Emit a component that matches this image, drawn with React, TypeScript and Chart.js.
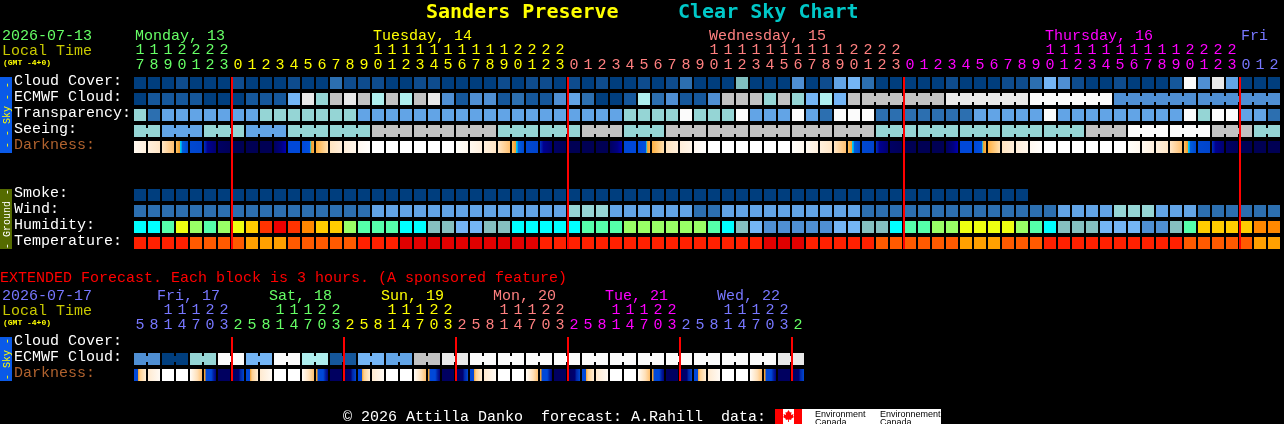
import React, { useEffect, useRef } from "react";
import { Chart, registerables } from "chart.js";

Chart.register(...registerables);

// ---------- data: main forecast (one column per hour) ----------
const hours = [
  17, 18, 19, 20, 21, 22, 23,
  0, 1, 2, 3, 4, 5, 6, 7, 8, 9, 10, 11, 12, 13, 14, 15, 16, 17, 18, 19, 20, 21, 22, 23,
  0, 1, 2, 3, 4, 5, 6, 7, 8, 9, 10, 11, 12, 13, 14, 15, 16, 17, 18, 19, 20, 21, 22, 23,
  0, 1, 2, 3, 4, 5, 6, 7, 8, 9, 10, 11, 12, 13, 14, 15, 16, 17, 18, 19, 20, 21, 22, 23,
  0, 1, 2,
];
const hourDays = [
  0, 0, 0, 0, 0, 0, 0,
  1, 1, 1, 1, 1, 1, 1, 1, 1, 1, 1, 1, 1, 1, 1, 1, 1, 1, 1, 1, 1, 1, 1, 1,
  2, 2, 2, 2, 2, 2, 2, 2, 2, 2, 2, 2, 2, 2, 2, 2, 2, 2, 2, 2, 2, 2, 2, 2,
  3, 3, 3, 3, 3, 3, 3, 3, 3, 3, 3, 3, 3, 3, 3, 3, 3, 3, 3, 3, 3, 3, 3, 3,
  4, 4, 4,
];
const dayColors = ["#66ff66", "#ffff00", "#ff8080", "#ff00ff", "#7777ff"];
const dayLabels = ["Monday, 13", "Tuesday, 14", "Wednesday, 15", "Thursday, 16", "Fri"];
const dayLabelColumns = [0, 17, 41, 65, 79];
const midnightColumns = [7, 31, 55, 79];
const rowLabels = ["Cloud Cover:", "ECMWF Cloud:", "Transparency:", "Seeing:", "Darkness:", "", "", "Smoke:", "Wind:", "Humidity:", "Temperature:"];

const skyPalette: Record<string, string> = {
  a: "#003e7e", b: "#0e4c8e", c: "#15579b", d: "#2c6fb0", e: "#4f8fd3", f: "#62a4e6", g: "#74b5f5",
  h: "#80bfbf", i: "#95d5d5", j: "#aeeeee", k: "#c2c2c2", l: "#e9e9e9", m: "#fbfbfb",
};
const cloudCover = "aaabaaabaaabaadbbbaabb" + "aaaababbababaababdaaahaaaeabfg" + "daaaaabaaabbdgebaabaaacmelfaaa";
const ecmwfCloud = "accccaaaccc" + "glikl" + "kjkjkl" + "eceecdccefdaacjdecce" + "kkkikigjgk" + "kkkkkk" + "llllll" + "mmmmmm" + "eeeeee" + "eeeeee";
const transparency = "idfffffff" + "iiiiiii" + "ffffff" + "fffffffffffff" + "iiii" + "m" + "iii" + "m" + "fff" + "m" + "f" + "d" + "mm" + "m" + "ddddddd" + "fffff" + "m" + "fffffffff" + "m" + "i" + "mm" + "ff" + "d";
const seeingGroups = [2, 3, 3, 3, 3, 3, 3, 3, 3, 3, 3, 3, 3, 3, 3, 3, 3, 3, 3, 3, 3, 3, 3, 3, 3, 3, 3, 2];
const seeingGroupLevels = "ififiikkkiikikkkkkiiiiikmmki";
const ecmwfBridgedStart = 52;
const ecmwfBridgedGroups = [6, 6, 6, 6, 6];
const smokeLevels = "aaaaaaaaaaaaaaaaaaaaaaaaaaaaaaaaaaaaaaaaaaaaaaaaaaaaaaaaaaaaaaaa";
const windLevels = "ddddddddddddddddd" + "ffffffffffffff" + "iii" + "ffffff" + "dd" + "ffffffffff" + "dddddddddddddd" + "ffff" + "iii" + "fff" + "dddddd";

const humidityPalette: Record<string, string> = {
  A: "#00ffff", B: "#55ffaa", C: "#99ff66", D: "#eeff11", E: "#ffcc00", F: "#ff8800", G: "#ff3300", H: "#ee0000",
  h: "#85bfbf", g: "#74b5f5", e: "#4f8fd3",
};
const humidityLevels = "AABDCBCDEGHGFEECBBBAA" + "hhgghhAAAAABBBCCCCCCBAhgeeeeegg" + "hhABBCCDDDDCBAhhhgggeehBEEEEFF";

const temperaturePalette: Record<string, string> = { H: "#e00000", G: "#ff2000", O: "#ff5a00", P: "#ffa000" };
const temperatureLevels = "GGGGOOOOPPPOOOOOGGGHH" + "HHHHHHHH" + "GGGGGGGGGGGGGGGG" + "HHH" + "GGGG" + "G" + "OOOOOO" + "PPP" + "OOO" + "GGGGGGGGGG" + "OOOOO" + "PP";

const darkStops: Record<string, [number, string][]> = {
  a: [[0, "#fff9f0"], [1, "#fff0dd"]],
  b: [[0, "#fff0dd"], [1, "#ffe6c6"]],
  c: [[0, "#ffe6c6"], [1, "#ffc070"]],
  d: [[0, "#ffc060"], [0.3, "#f0a030"], [0.33, "#00d8f0"], [0.45, "#00b0f0"], [0.5, "#0060e0"], [1, "#0048d0"]],
  e: [[0, "#0048d0"], [1, "#0044cc"]],
  f: [[0, "#0030c0"], [0.3, "#000090"], [1, "#000070"]],
  g: [[0, "#000064"], [1, "#000058"]],
  h: [[0, "#000054"], [1, "#000054"]],
  i: [[0, "#000060"], [0.6, "#000080"], [1, "#0000b0"]],
  j: [[0, "#0048d8"], [1, "#0048d8"]],
  k: [[0, "#0048d8"], [0.65, "#0050e0"], [0.68, "#00c0f0"], [0.8, "#f0a030"], [1, "#ffb040"]],
  l: [[0, "#ffb040"], [1, "#ffe0b0"]],
  m: [[0, "#ffe4c0"], [1, "#ffeeda"]],
  n: [[0, "#ffeeda"], [1, "#fff6ea"]],
  o: [[0, "#fff8f0"], [1, "#fffefc"]],
  w: [[0, "#ffffff"], [1, "#ffffff"]],
  p: [[0, "#fffefa"], [1, "#fff8ee"]],
  q: [[0, "#0048d8"], [0.3, "#0048d8"], [0.33, "#f0a030"], [0.5, "#ffd090"], [1, "#ffefd8"]],
  r: [[0, "#ffead0"], [1, "#fffaf4"]],
  s: [[0, "#fffcf8"], [0.6, "#ffe0b8"], [1, "#ffc070"]],
  t: [[0, "#f0a030"], [0.1, "#f0a030"], [0.15, "#0048d8"], [0.6, "#0048d8"], [0.8, "#0020a0"], [1, "#000080"]],
  u: [[0, "#000060"], [1, "#000060"]],
  v: [[0, "#000060"], [0.6, "#000070"], [0.65, "#0020a0"], [1, "#0048d0"]],
};
const darkness = "abcdefghhhijklmnowwwwwwp" + "abcdefghhhijklmnowwwwwwp" + "abcdefghhhijklmnowwwwwwp" + "abcdefghhh";

// ---------- data: extended forecast (one column per 3 hours) ----------
const extHours = [
  5, 8, 11, 14, 17, 20, 23,
  2, 5, 8, 11, 14, 17, 20, 23,
  2, 5, 8, 11, 14, 17, 20, 23,
  2, 5, 8, 11, 14, 17, 20, 23,
  2, 5, 8, 11, 14, 17, 20, 23,
  2, 5, 8, 11, 14, 17, 20, 23,
  2,
];
const extHourDays = [
  4, 4, 4, 4, 4, 4, 4,
  0, 0, 0, 0, 0, 0, 0, 0,
  1, 1, 1, 1, 1, 1, 1, 1,
  2, 2, 2, 2, 2, 2, 2, 2,
  3, 3, 3, 3, 3, 3, 3, 3,
  4, 4, 4, 4, 4, 4, 4, 4,
  0,
];
const extDayLabels = ["Fri, 17", "Sat, 18", "Sun, 19", "Mon, 20", "Tue, 21", "Wed, 22"];
const extDayLabelColors = [4, 0, 1, 2, 3, 4];
const extDayLabelColumns = [2, 10, 18, 26, 34, 42];
const extMidnightColumns = [7, 15, 23, 31, 39, 47];
const extRowLabels = ["Cloud Cover:", "ECMWF Cloud:", "Darkness:"];
const extCloudGroups = "eaimgmjcgfkl" + "mmmmmmmmmmm" + "l";
const extDarkness = "qrwwstuv" + "qrwwstuv" + "qrwwstuv" + "qrwwstuv" + "qrwwstuv" + "qrwwstuv";

// ---------- helpers ----------
const MONO = "'Liberation Mono', monospace";
const BOLD = "bold 20px 'DejaVu Sans Mono', monospace";
const LEVEL_HALF = 0.375;
const BRIDGE_HALF = 0.1875;
const LABEL_LIFT = 0.125;
const DARKNESS_COLOR = "#b0622e";

const expandGroups = (levels: string, groups: number[]) =>
  groups.map((n, g) => levels[g].repeat(n)).join("");

function runsToBridges(start: number, groups: number[]) {
  const out: number[] = [];
  let col = start;
  groups.forEach((n) => {
    for (let k = 0; k < n - 1; k++) out.push(col + k);
    col += n;
  });
  return out;
}

function levelDataset(row: number, levels: string, palette: Record<string, string>, count: number) {
  const data: ([number, number] | null)[] = [];
  for (let i = 0; i < count; i++) data.push(i < levels.length ? [row - LEVEL_HALF, row + LEVEL_HALF] : null);
  return {
    type: "bar" as const,
    data,
    grouped: false,
    barThickness: 12,
    borderWidth: 0,
    inflateAmount: 0,
    backgroundColor: (ctx: any) => palette[levels[ctx.dataIndex]] ?? "#000",
  };
}

function darknessDataset(row: number, levels: string) {
  return {
    type: "bar" as const,
    data: levels.split("").map(() => [row - LEVEL_HALF, row + LEVEL_HALF]),
    grouped: false,
    barThickness: 12,
    borderWidth: 0,
    inflateAmount: 0,
    backgroundColor: (ctx: any) => {
      const i = ctx.dataIndex;
      const scale = ctx.chart.scales.x;
      if (i === undefined || !scale) return "#000";
      const cx = scale.getPixelForValue(i);
      if (!Number.isFinite(cx)) return "#000";
      const g = ctx.chart.ctx.createLinearGradient(cx - 6, 0, cx + 6, 0);
      darkStops[levels[i]].forEach(([p, c]) => g.addColorStop(p, c));
      return g;
    },
  };
}

function tickAxis(labels: string[], hoursList: number[], daysList: number[]) {
  return {
    type: "category" as const,
    labels,
    position: "top" as const,
    offset: true,
    grid: { display: false },
    border: { display: false },
    afterFit: (s: any) => { s.height = 75; },
    ticks: {
      autoSkip: false,
      maxRotation: 0,
      minRotation: 0,
      padding: -6,
      font: { family: MONO, size: 15, lineHeight: 1 },
      color: (c: any) => dayColors[daysList[c.index]],
      callback: (_v: any, i: number) => {
        const h = hoursList[i];
        return [h >= 10 ? String(Math.floor(h / 10)) : " ", String(h % 10)];
      },
    },
  };
}

function rowAxis(names: string[], lastRow: number) {
  const nameOf = (v: number) => names[Math.round(v + LABEL_LIFT)] ?? "";
  return {
    type: "linear" as const,
    min: -0.5,
    max: lastRow + 0.5,
    reverse: true,
    grid: { display: false },
    border: { display: false },
    afterFit: (s: any) => { s.width = 119; },
    afterBuildTicks: (s: any) => { s.ticks = names.map((_n, i) => ({ value: i - LABEL_LIFT })); },
    ticks: {
      autoSkip: false,
      crossAlign: "far" as const,
      padding: 0,
      font: { family: MONO, size: 15 },
      color: (c: any) => (nameOf(c.tick?.value) === "Darkness:" ? DARKNESS_COLOR : "#ffffff"),
      callback: (v: any) => nameOf(v),
    },
  };
}

function sideBand(chart: any, topRow: number, bottomRow: number, color: string, text: string, textColor: string) {
  const { ctx, scales } = chart;
  const top = scales.y.getPixelForValue(topRow - LEVEL_HALF);
  const bottom = scales.y.getPixelForValue(bottomRow + LEVEL_HALF);
  ctx.save();
  ctx.fillStyle = color;
  ctx.fillRect(0, top, 12, bottom - top);
  ctx.translate(9.5, (top + bottom) / 2);
  ctx.rotate(-Math.PI / 2);
  ctx.font = `10px ${MONO}`;
  ctx.textAlign = "center";
  ctx.textBaseline = "alphabetic";
  ctx.fillStyle = textColor;
  ctx.fillText(text, 0, 0);
  ctx.restore();
}

function bridges(chart: any, row: number, columns: number[], colorAt: (c: number) => string) {
  const { ctx, scales } = chart;
  const y0 = scales.y.getPixelForValue(row - BRIDGE_HALF);
  const y1 = scales.y.getPixelForValue(row + BRIDGE_HALF);
  columns.forEach((c) => {
    ctx.fillStyle = colorAt(c);
    const x0 = scales.x.getPixelForValue(c) + 6;
    const x1 = scales.x.getPixelForValue(c + 1) - 6;
    ctx.fillRect(x0, y0, x1 - x0, y1 - y0);
  });
}

function redLines(chart: any, columns: number[], firstRow: number, lastRow: number) {
  const { ctx, scales } = chart;
  const y0 = scales.y.getPixelForValue(firstRow - LEVEL_HALF);
  const y1 = scales.y.getPixelForValue(lastRow + LEVEL_HALF);
  ctx.fillStyle = "#ff0000";
  columns.forEach((c) => ctx.fillRect(scales.x.getPixelForValue(c) - 7, y0, 2, y1 - y0));
}

function text(ctx: any, s: string, x: number, y: number, color: string, font = `15px ${MONO}`) {
  ctx.font = font;
  ctx.fillStyle = color;
  ctx.textAlign = "left";
  ctx.textBaseline = "alphabetic";
  ctx.fillText(s, x, y);
}

function drawLogo(ctx: any) {
  ctx.fillStyle = "#ffffff";
  ctx.fillRect(775, 409, 166, 15);
  ctx.fillStyle = "#ff0000";
  ctx.fillRect(775, 409, 8, 15);
  ctx.fillRect(794, 409, 8, 15);
  const leaf = [
    [0, -6], [1.5, -3.5], [3, -4], [2.5, -1], [5, -2], [4.5, 0], [5.5, 1], [2.5, 3], [3, 4], [0.4, 3.6], [0.4, 6],
    [-0.4, 6], [-0.4, 3.6], [-3, 4], [-2.5, 3], [-5.5, 1], [-4.5, 0], [-5, -2], [-2.5, -1], [-3, -4], [-1.5, -3.5],
  ];
  ctx.beginPath();
  leaf.forEach(([x, y], i) => (i ? ctx.lineTo(788.5 + x, 416 + y) : ctx.moveTo(788.5 + x, 416 + y)));
  ctx.closePath();
  ctx.fill();
  const f = "9px 'Liberation Sans', sans-serif";
  text(ctx, "Environment", 815, 417, "#000", f);
  text(ctx, "Canada", 815, 425, "#000", f);
  text(ctx, "Environnement", 880, 417, "#000", f);
  text(ctx, "Canada", 880, 425, "#000", f);
}

const mainDecor = {
  id: "mainDecor",
  afterDatasetsDraw(chart: any) {
    const { ctx, scales } = chart;
    ctx.save();
    const seeing = expandGroups(seeingGroupLevels, seeingGroups);
    bridges(chart, 3, runsToBridges(0, seeingGroups), (c) => skyPalette[seeing[c]]);
    bridges(chart, 1, runsToBridges(ecmwfBridgedStart, ecmwfBridgedGroups), (c) => skyPalette[ecmwfCloud[c]]);
    redLines(chart, midnightColumns, 0, 10);
    sideBand(chart, 0, 4, "#0a5ae8", "- - Sky - -", "#ffff00");
    sideBand(chart, 7, 10, "#556b00", "- Ground -", "#ffffff");
    text(ctx, "Sanders Preserve", 426, 18, "#ffff00", BOLD);
    text(ctx, "Clear Sky Chart", 678, 18, "#00c8c8", BOLD);
    text(ctx, "2026-07-13", 2, 40, "#66ff66");
    text(ctx, "Local Time", 2, 55, "#c8c800");
    text(ctx, "(GMT -4+0)", 3, 65, "#ffff00", `bold 8px ${MONO}`);
    dayLabels.forEach((d, i) =>
      text(ctx, d, scales.x.getPixelForValue(dayLabelColumns[i]) - 5, 40, dayColors[i]));
    ctx.restore();
  },
};

const extDecor = {
  id: "extDecor",
  afterDatasetsDraw(chart: any) {
    const { ctx, scales } = chart;
    ctx.save();
    const pairs = extCloudGroups.split("").map(() => 2);
    const cloud = expandGroups(extCloudGroups, pairs);
    bridges(chart, 1, runsToBridges(0, pairs), (c) => skyPalette[cloud[c]]);
    redLines(chart, extMidnightColumns, 0, 2);
    sideBand(chart, 0, 2, "#0a5ae8", "- Sky -", "#ffff00");
    text(ctx, "EXTENDED Forecast. Each block is 3 hours. (A sponsored feature)", 0, 282, "#ff0000");
    text(ctx, "2026-07-17", 2, 300, "#7777ff");
    text(ctx, "Local Time", 2, 315, "#c8c800");
    text(ctx, "(GMT -4+0)", 3, 325, "#ffff00", `bold 8px ${MONO}`);
    extDayLabels.forEach((d, i) =>
      text(ctx, d, scales.x.getPixelForValue(extDayLabelColumns[i]) - 11, 300, dayColors[extDayLabelColors[i]]));
    text(ctx, "\u00a9 2026 Attilla Danko  forecast: A.Rahill  data:", 343, 421, "#ffffff");
    drawLogo(ctx);
    ctx.restore();
  },
};

function baseOptions(padding: any, x: any, y: any) {
  return {
    responsive: false,
    animation: false as const,
    devicePixelRatio: 1,
    events: [],
    layout: { padding },
    plugins: { legend: { display: false }, title: { display: false }, tooltip: { enabled: false } },
    scales: { x, y },
  };
}

const canvasStyle: React.CSSProperties = { position: "absolute", left: 0, top: 0, display: "block" };

export default function App() {
  const mainRef = useRef<HTMLCanvasElement>(null);
  const extRef = useRef<HTMLCanvasElement>(null);

  useEffect(() => {
    const n = hours.length;
    const seeing = expandGroups(seeingGroupLevels, seeingGroups);
    const main = new Chart(mainRef.current!, {
      type: "bar",
      data: {
        labels: hours.map(String),
        datasets: [
          levelDataset(0, cloudCover, skyPalette, n),
          levelDataset(1, ecmwfCloud, skyPalette, n),
          levelDataset(2, transparency, skyPalette, n),
          levelDataset(3, seeing, skyPalette, n),
          darknessDataset(4, darkness),
          levelDataset(7, smokeLevels, skyPalette, n),
          levelDataset(8, windLevels, skyPalette, n),
          levelDataset(9, humidityLevels, humidityPalette, n),
          levelDataset(10, temperatureLevels, temperaturePalette, n),
        ] as any,
      },
      options: baseOptions(
        { left: 14, right: 3, top: 0, bottom: 173 },
        tickAxis(hours.map(String), hours, hourDays),
        rowAxis(rowLabels, 10),
      ) as any,
      plugins: [mainDecor],
    });

    const extN = extHours.length;
    const pairs = extCloudGroups.split("").map(() => 2);
    const ext = new Chart(extRef.current!, {
      type: "bar",
      data: {
        labels: extHours.map(String),
        datasets: [
          levelDataset(1, expandGroups(extCloudGroups, pairs), skyPalette, extN),
          darknessDataset(2, extDarkness),
        ] as any,
      },
      options: baseOptions(
        { left: 14, right: 479, top: 260, bottom: 41 },
        tickAxis(extHours.map(String), extHours, extHourDays),
        rowAxis(extRowLabels, 2),
      ) as any,
      plugins: [extDecor],
    });

    return () => {
      main.destroy();
      ext.destroy();
    };
  }, []);

  return (
    <div style={{ position: "absolute", left: 0, top: 0, width: 1284, height: 424, background: "#000", overflow: "hidden" }}>
      <canvas ref={mainRef} width={1284} height={424} style={canvasStyle} />
      <canvas ref={extRef} width={1284} height={424} style={canvasStyle} />
    </div>
  );
}
